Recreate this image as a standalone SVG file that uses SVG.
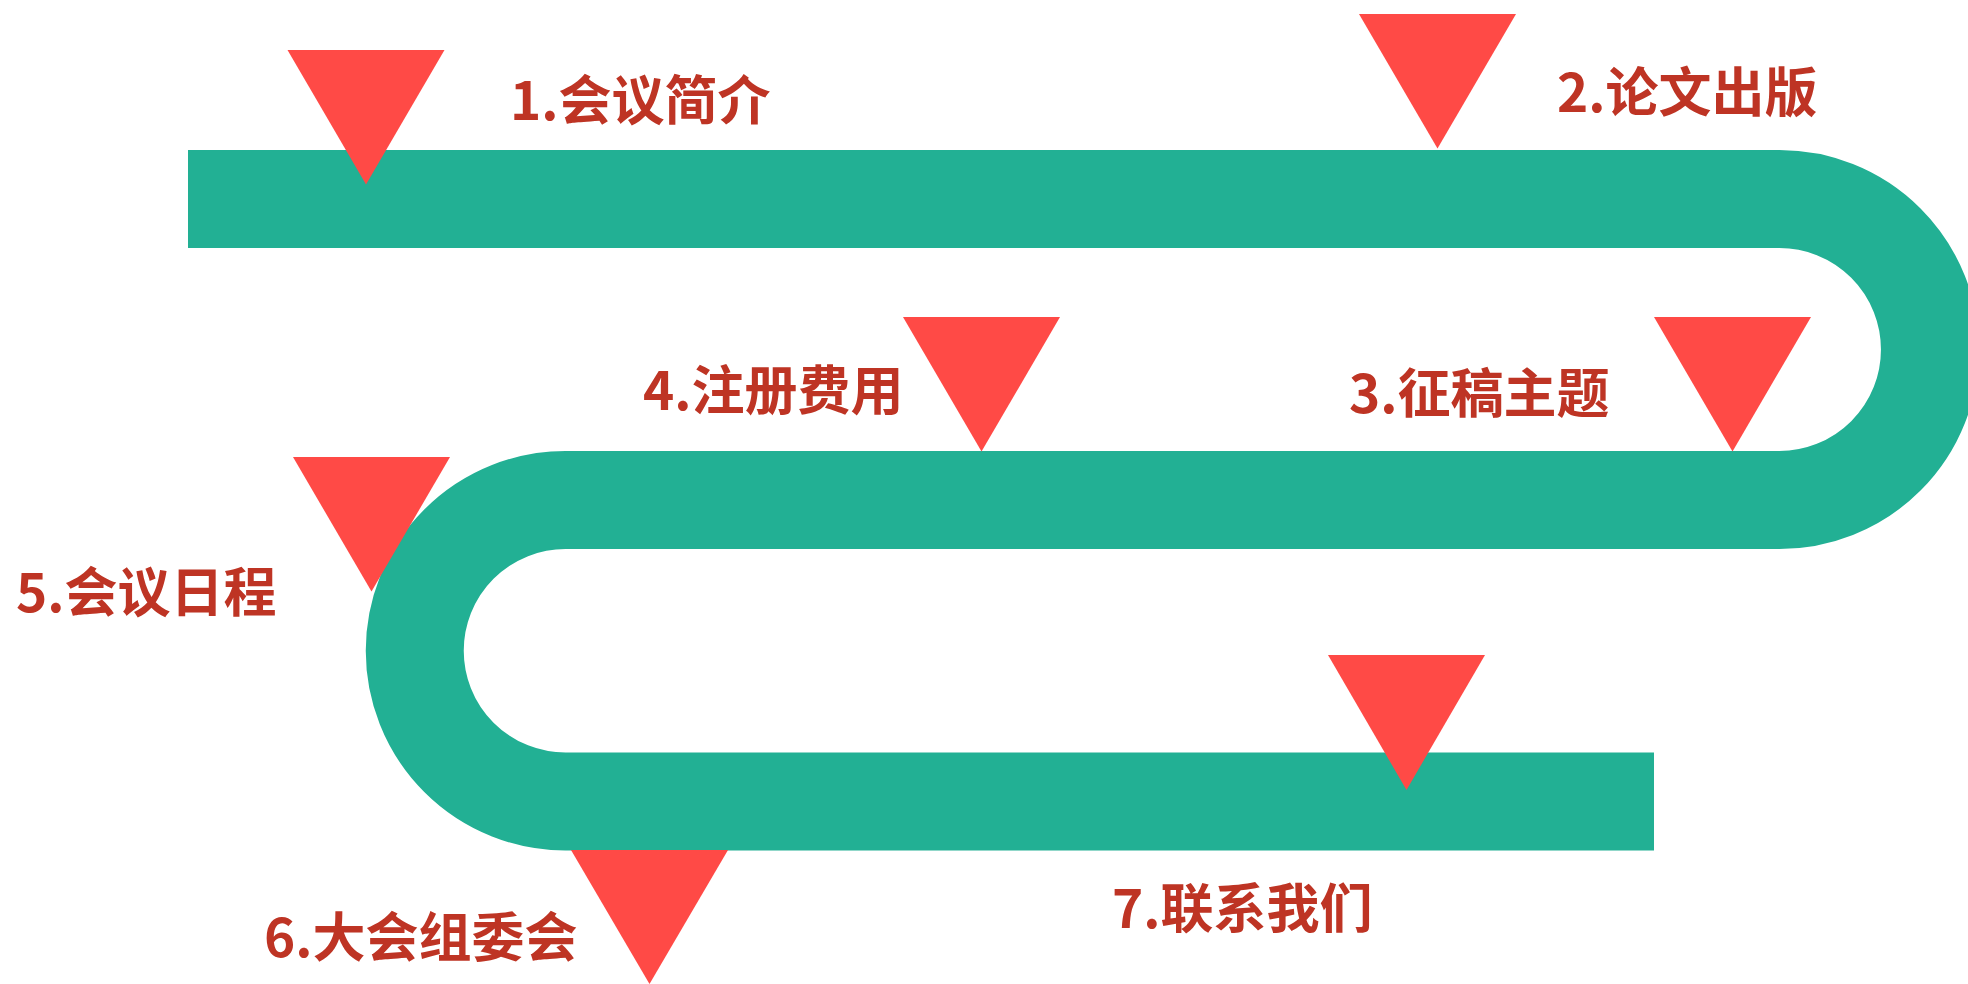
<svg xmlns="http://www.w3.org/2000/svg" width="1968" height="984" viewBox="0 0 1968 984">
<style>
.road{fill:none;stroke:#22B094;stroke-width:98;stroke-linecap:butt}
.tri{fill:#FF4A46}
.lbl{fill:#BE3424;font-family:"Noto Sans CJK SC","Noto Sans",sans-serif;font-weight:bold;font-size:53px}
</style>
<rect width="1968" height="984" fill="#FFFFFF"/>
<g id="connectors">
<path class="road" d="M 188 199 H 1779.5 A 150.5 150.5 0 0 1 1779.5 500 H 565.5 A 150.75 150.75 0 0 0 565.5 801.5 H 1654"/>
</g>
<g id="step1">
<polygon class="tri" points="287.5,50 444.5,50 366,184.5"/>
<text class="lbl" x="510" y="120">1.会议简介</text>
</g>
<g id="step2">
<polygon class="tri" points="1359,14 1516,14 1437.5,148.5"/>
<text class="lbl" x="1557" y="112">2.论文出版</text>
</g>
<g id="step3">
<polygon class="tri" points="1654,317 1811,317 1732.5,451.5"/>
<text class="lbl" x="1349" y="413">3.征稿主题</text>
</g>
<g id="step4">
<polygon class="tri" points="903,317 1060,317 981.5,451.5"/>
<text class="lbl" x="643" y="410">4.注册费用</text>
</g>
<g id="step5">
<polygon class="tri" points="293,457 450,457 371.5,591.5"/>
<text class="lbl" x="16" y="612">5.会议日程</text>
</g>
<g id="step6">
<polygon class="tri" points="571,850 728,850 649.5,984"/>
<text class="lbl" x="264" y="957">6.大会组委会</text>
</g>
<g id="step7">
<polygon class="tri" points="1328,655 1485,655 1406.5,790"/>
<text class="lbl" x="1112" y="928">7.联系我们</text>
</g>
</svg>
